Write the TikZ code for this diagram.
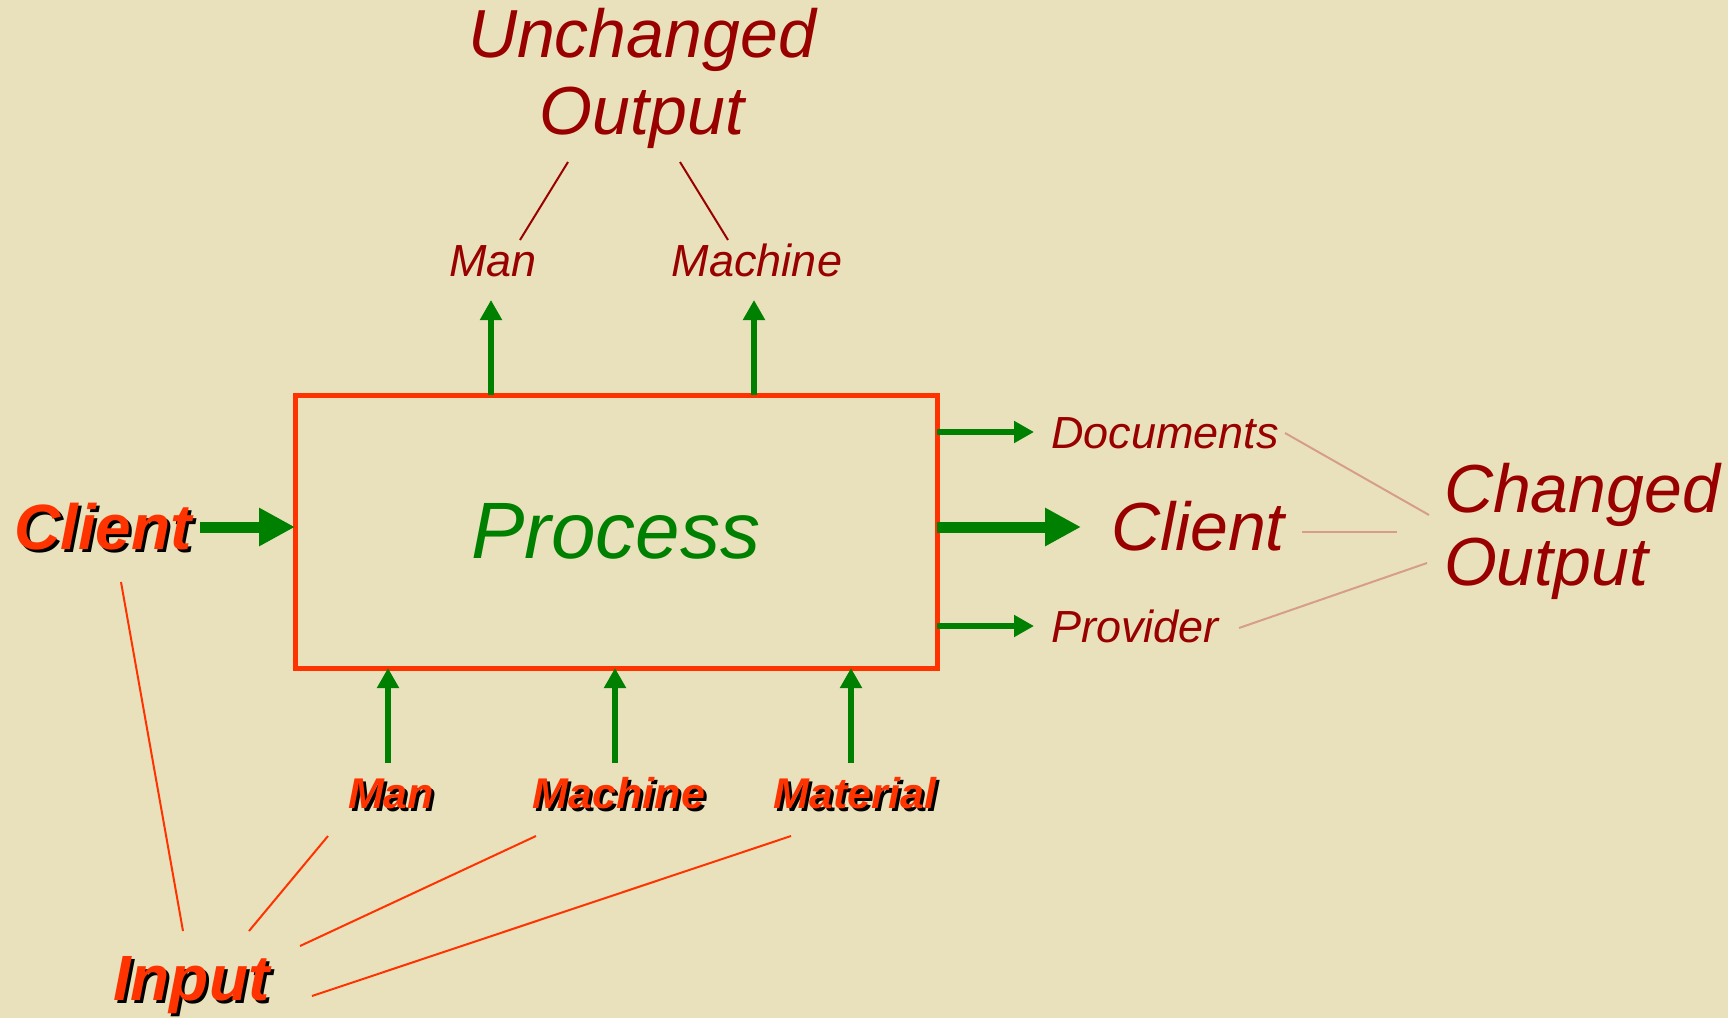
\documentclass[tikz,border=0pt]{standalone}
\usepackage{fontspec}
\setmainfont{Liberation Sans}
\usetikzlibrary{arrows.meta,calc}
\definecolor{bg}{RGB}{233,225,188}
\definecolor{darkred}{RGB}{153,0,0}
\definecolor{orangered}{RGB}{255,51,0}
\definecolor{grn}{RGB}{0,128,0}
\definecolor{pinkline}{RGB}{214,158,138}
\begin{document}
\begin{tikzpicture}[x=1pt,y=-1pt,
  lbl/.style={inner sep=0pt, outer sep=0pt, font=\itshape\fontsize{45}{50}\selectfont, text=darkred},
  big/.style={inner sep=0pt, outer sep=0pt, font=\itshape\fontsize{68}{72}\selectfont, text=darkred},
  olbl/.style={inner sep=0pt, outer sep=0pt, font=\bfseries\itshape\fontsize{43}{48}\selectfont, text=orangered},
  obig/.style={inner sep=0pt, outer sep=0pt, font=\bfseries\itshape\fontsize{64}{68}\selectfont, text=orangered},
  shad/.style={text=black},
  garrow/.style={draw=grn, line width=5.5pt, -{Triangle[length=20pt,width=21pt]}},
  gthick/.style={draw=grn, line width=11pt, -{Triangle[length=36pt,width=36pt]}},
  redline/.style={draw=darkred, line width=2pt},
  pinkln/.style={draw=pinkline, line width=2pt},
  orline/.style={draw=orangered, line width=2pt}
]
\fill[bg] (0,0) rectangle (1728,1018);
\useasboundingbox (0,0) rectangle (1728,1018);

% process box
\node[draw=orangered, line width=5pt, outer sep=0pt, inner sep=0pt,
      minimum width=642pt, minimum height=273pt,
      font=\itshape\fontsize{80}{84}\selectfont, text=grn] (proc) at (616,531.5) {Process};

% unchanged output
\node[big, anchor=base] (unch) at (642,57) {Unchanged};
\node[big, anchor=base] (unout) at (642,134) {Output};
\node[lbl, anchor=base] (tman) at (493,276) {Man};
\node[lbl, anchor=base] (tmach) at (757,276) {Machine};
\coordinate (u1) at (568,162); \coordinate (u2) at (520,240);
\coordinate (u3) at (680,162); \coordinate (u4) at (728,240);
\draw[redline] (u1) -- (u2);
\draw[redline] (u3) -- (u4);

% top arrows
\coordinate (tmtip) at (491,300);
\coordinate (tmctip) at (754,300);
\draw[garrow] (tmtip |- proc.north) -- (tmtip);
\draw[garrow] (tmctip |- proc.north) -- (tmctip);

% left client (shadowed)
\node[obig, shad, anchor=base west] (clientLs) at (17,552) {Client};
\node[obig, anchor=base west] (clientL) at (14,549) {Client};
\coordinate (ca1) at (200,527);
\draw[gthick] (ca1) -- (ca1 -| proc.west);

% right side
\coordinate (dtip) at (1034,432);
\coordinate (ctip) at (1081,527);
\coordinate (ptip) at (1034,626);
\draw[garrow] (dtip -| proc.east) -- (dtip);
\draw[gthick] (ctip -| proc.east) -- (ctip);
\draw[garrow] (ptip -| proc.east) -- (ptip);
\node[lbl, anchor=base west] (docs) at (1051,448) {Documents};
\node[big, anchor=base west] (clientR) at (1111,550) {Client};
\node[lbl, anchor=base west] (prov) at (1051,642) {Provider};
\node[big, anchor=base west] (chg) at (1444,512) {Changed};
\node[big, anchor=base west] (chout) at (1444,585) {Output};
\coordinate (c1) at (1285,433); \coordinate (c2) at (1429,515);
\coordinate (c3) at (1302,532); \coordinate (c4) at (1397,532);
\coordinate (c5) at (1239,628); \coordinate (c6) at (1427,563);
\draw[pinkln] (c1) -- (c2);
\draw[pinkln] (c3) -- (c4);
\draw[pinkln] (c5) -- (c6);

% bottom inputs
\coordinate (bm1) at (388,763);
\coordinate (bm2) at (615,763);
\coordinate (bm3) at (851,763);
\draw[garrow] (bm1) -- (bm1 |- proc.south);
\draw[garrow] (bm2) -- (bm2 |- proc.south);
\draw[garrow] (bm3) -- (bm3 |- proc.south);
\node[olbl, shad, anchor=base] (bmans) at (394,811) {Man};
\node[olbl, anchor=base] (bman) at (391,808) {Man};
\node[olbl, shad, anchor=base] (bmachs) at (622,811) {Machine};
\node[olbl, anchor=base] (bmach) at (619,808) {Machine};
\node[olbl, shad, anchor=base] (bmats) at (858,811) {Material};
\node[olbl, anchor=base] (bmat) at (855,808) {Material};

% input
\node[obig, shad, anchor=base west] (inps) at (116,1003) {Input};
\node[obig, anchor=base west] (inp) at (113,1000) {Input};
\coordinate (i1) at (121,582); \coordinate (i2) at (183,931);
\coordinate (i3) at (328,836); \coordinate (i4) at (249,931);
\coordinate (i5) at (536,836); \coordinate (i6) at (300,946);
\coordinate (i7) at (791,836); \coordinate (i8) at (312,996);
\draw[orline] (i1) -- (i2);
\draw[orline] (i3) -- (i4);
\draw[orline] (i5) -- (i6);
\draw[orline] (i7) -- (i8);
\end{tikzpicture}
\end{document}
